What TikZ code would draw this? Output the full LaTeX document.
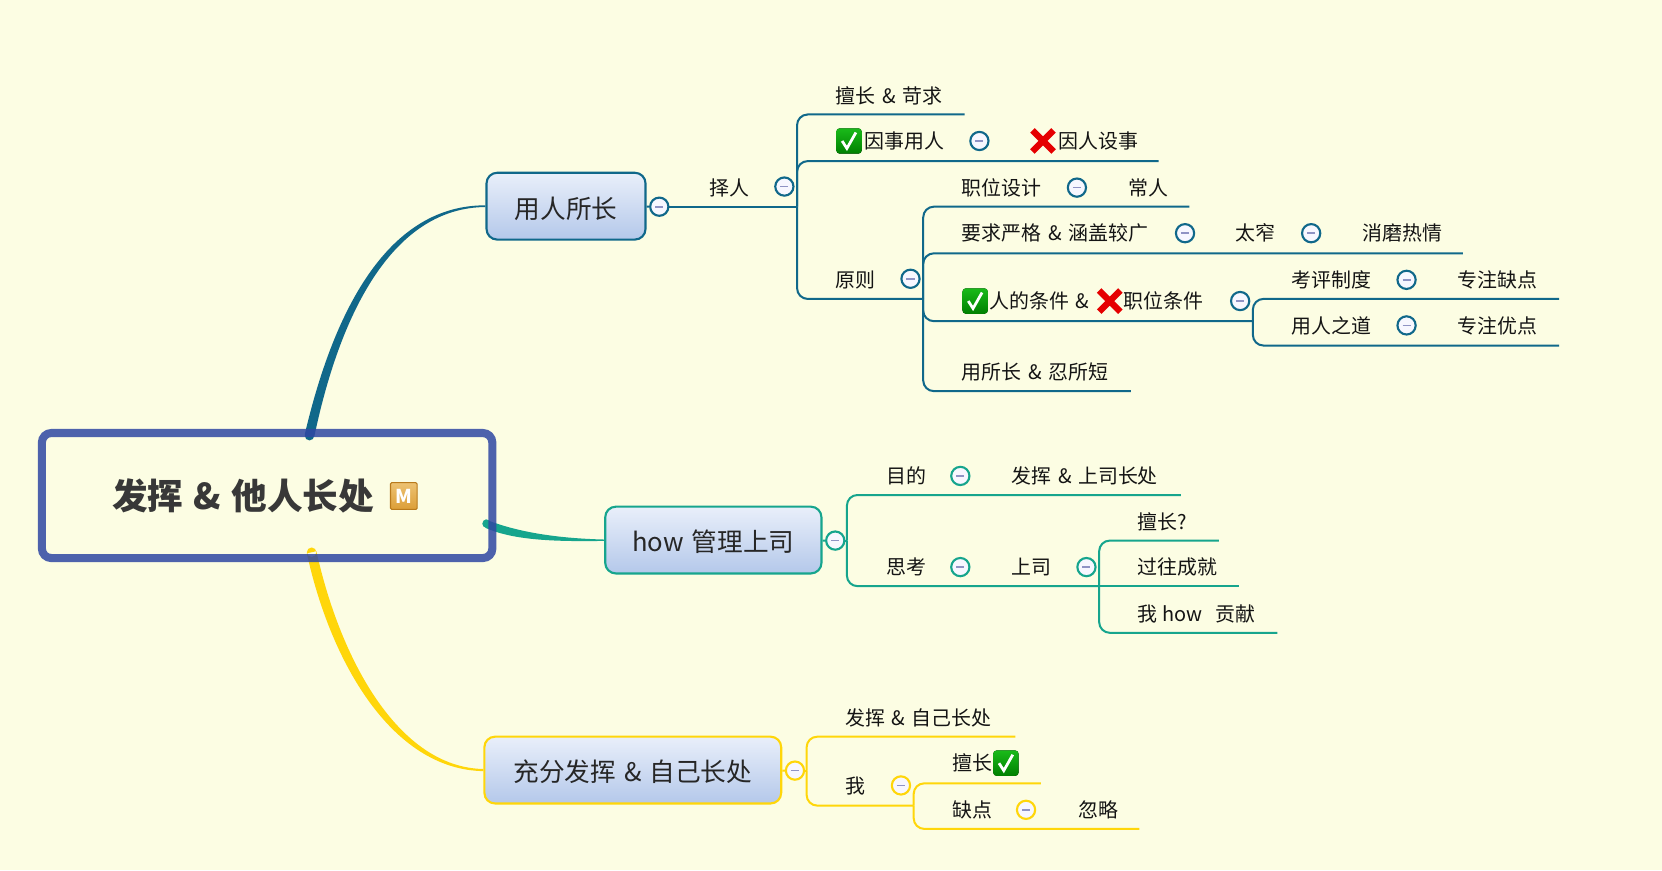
\documentclass[tikz,border=0pt]{standalone}
\usepackage{fontspec}
\setmainfont{Noto Sans CJK SC}
\usetikzlibrary{calc}
\definecolor{paper}{HTML}{FCFDE3}
\definecolor{rootblue}{HTML}{2F47A3}
\definecolor{lineblue}{HTML}{10688A}
\definecolor{lineteal}{HTML}{16A58D}
\definecolor{lineyellow}{HTML}{FFD60A}
\definecolor{minusc}{HTML}{8F93C4}
\definecolor{boxtop}{HTML}{E9EFFA}
\definecolor{boxbottom}{HTML}{B4C8EA}
\definecolor{medaltop}{HTML}{EDC272}
\definecolor{medalbottom}{HTML}{DC9E38}
\definecolor{medalline}{HTML}{B97A1C}
\newcommand{\andsign}{\hspace{1pt}\&\hspace{1pt}}
\begin{document}
\begin{tikzpicture}[x=0.5pt, y=-0.5pt,
    t/.style={anchor=west, inner sep=0pt, text height=8.5pt, text depth=1.2pt, font=\fontsize{9.4}{11}\selectfont, text=black!92},
    b/.style={rectangle, rounded corners=5pt, draw=#1, line width=1pt, top color=boxtop, bottom color=boxbottom, minimum height=31.5pt, inner sep=0pt, text height=11.2pt, text depth=0pt, font=\fontsize{12.1}{14}\selectfont, text=black!85},
    fold/.style={circle, draw=#1, line width=1pt, fill=blue!3!white, minimum size=8.6pt, inner sep=0pt,
      path picture={\draw[minusc, line width=.8pt] ([xshift=-1.9pt]path picture bounding box.center) -- ([xshift=1.9pt]path picture bounding box.center);}},
    la/.style={draw=lineblue, line width=.95pt, rounded corners=5pt},
    lb/.style={draw=lineteal, line width=.95pt, rounded corners=5pt},
    lc/.style={draw=lineyellow, line width=.95pt, rounded corners=5pt},
    okmark/.pic={\fill[top color=green!70!black!90!white, bottom color=green!50!black, rounded corners=1.6pt] (-12,-12) rectangle (12,12);
      \draw[white, line width=1.3pt] (-6.5,0) -- (-2,7) -- (6.5,-8);},
    nomark/.pic={\draw[red!90!black, line width=3pt] (-10,-10) -- (10,10) (10,-10) -- (-10,10);}]
\fill[paper] (0,0) rectangle (1568,821);
\coordinate (s1) at (292,411); \coordinate (s2) at (459,494); \coordinate (s3) at (294,521);
\node[b=lineblue, minimum width=75pt] (yong) at (534,194.5) {用人所长};
\node[b=lineteal, minimum width=102pt] (how) at (673,509.5) {how\hspace{1pt} 管理上司};
\node[b=lineyellow, minimum width=140pt] (full) at (597,726.5) {充分发挥 \andsign{} 自己长处};
\fill[lineblue] (s1) circle[radius=4.5] ($(s1)+(-4.5,-1)$) .. controls (316,288) and (368,193.5) .. ($(yong.west)+(0,-.8)$) -- ($(yong.west)+(0,.8)$) .. controls (373,196) and (322,290) .. ($(s1)+(4.5,1)$) -- cycle;
\fill[lineteal] (s2) circle[radius=4] ($(s2)+(-1,-4)$) .. controls (490,503) and (530,508) .. ($(how.west)+(0,-.5)$) -- ($(how.west)+(0,.8)$) .. controls (525,511) and (485,510) .. ($(s2)+(-1,4)$) -- cycle;
\fill[lineyellow] (s3) circle[radius=4.5] ($(s3)+(-4.5,1)$) .. controls (312,625) and (370,726) .. ($(full.west)+(0,1)$) -- ($(full.west)+(0,-1)$) .. controls (376,724) and (321,622) .. ($(s3)+(4.5,-1)$) -- cycle;
\node[rectangle, rounded corners=4.5pt, draw=rootblue, draw opacity=.85, line width=3.8pt, minimum width=212.5pt, minimum height=59pt, inner sep=0pt, text=black!78, font=\fontsize{16.8}{19}\selectfont\bfseries] (root) at (252,467.5) {发挥 \andsign{} 他人长处\kern22.5pt\null};
\node[rectangle, rounded corners=.6pt, draw=medalline, line width=.5pt, top color=medaltop, bottom color=medalbottom, text=white, minimum size=12.6pt, inner sep=0pt, font=\fontsize{9}{10}\selectfont\bfseries] (medal) at (381,468) {M};

\coordinate (j1) at (752,195);
\coordinate (e1a) at (910,108); \coordinate (e1b) at (1093,152); \coordinate (j2) at (871,282);
\coordinate (e2a) at (1122,195); \coordinate (e2b) at (1380,239); \coordinate (j3) at (1182,303); \coordinate (e2d) at (1067,369);
\coordinate (e3a) at (1471,282); \coordinate (e3b) at (1471,326);
\node[fold=lineblue] (f0) at (622,195) {};
\node[fold=lineblue] (f1) at (740,176) {};
\node[fold=lineblue] (f2) at (924,133) {};
\node[fold=lineblue] (f3) at (859,263) {};
\node[fold=lineblue] (f4) at (1016,177) {};
\node[fold=lineblue] (f5) at (1118,220) {};
\node[fold=lineblue] (f6) at (1237,220) {};
\node[fold=lineblue] (f7) at (1170,284) {};
\node[fold=lineblue] (f8) at (1327,264) {};
\node[fold=lineblue] (f9) at (1327,307) {};
\draw[la] (yong) -- (f0); \draw[la] (f0) -- (j1);
\draw[la] (j1) |- (e1a); \draw[la] (j1) |- (e1b); \draw[la] (j1) |- (j2);
\draw[la] (j2) |- (e2a); \draw[la] (j2) |- (e2b); \draw[la] (j2) |- (j3); \draw[la] (j2) |- (e2d);
\draw[la] (j3) |- (e3a); \draw[la] (j3) |- (e3b);
\node[t] (ze) at (669,177) {择人};
\node[t] (shan) at (788,90) {擅长 \andsign{} 苛求};
\pic at (801,133) {okmark};
\node[t] (yinshi) at (815,133) {因事用人};
\pic at (984,133) {nomark};
\node[t] (yinren) at (998,133) {因人设事};
\node[t] (yuan) at (788,264) {原则};
\node[t] (zhi) at (907,177) {职位设计};
\node[t] (chang) at (1064,177) {常人};
\node[t] (yao) at (907,220) {要求严格 \andsign{} 涵盖较广};
\node[t] (zhai) at (1165,220) {太窄};
\node[t] (xiao) at (1285,220) {消磨热情};
\pic at (920,284) {okmark};
\node[t] (ren) at (933,284) {人的条件 \andsign{}};
\pic at (1047,284) {nomark};
\node[t] (tiao) at (1060,284) {职位条件};
\node[t] (suo) at (907,351) {用所长 \andsign{} 忍所短};
\node[t] (kao) at (1218,264) {考评制度};
\node[t] (que) at (1375,264) {专注缺点};
\node[t] (dao) at (1218,307) {用人之道};
\node[t] (you) at (1375,307) {专注优点};

\coordinate (j4) at (799,510); \coordinate (e4a) at (1114,467); \coordinate (j5) at (1037,553);
\coordinate (e5a) at (1150,510); \coordinate (e5b) at (1169,553); \coordinate (e5c) at (1205,597);
\node[fold=lineteal] (g0) at (788,510) {};
\node[fold=lineteal] (g1) at (906,449) {};
\node[fold=lineteal] (g2) at (906,535) {};
\node[fold=lineteal] (g3) at (1025,535) {};
\draw[lb] (how) -- (g0); \draw[lb] (g0) -- (j4);
\draw[lb] (j4) |- (e4a); \draw[lb] (j4) |- (j5);
\draw[lb] (j5) |- (e5a); \draw[lb] (j5) -- (e5b); \draw[lb] (j5) |- (e5c);
\node[t] (mu) at (836,449) {目的};
\node[t] (fa) at (954,449) {发挥 \andsign{} 上司长处};
\node[t] (si) at (836,535) {思考};
\node[t] (shang) at (954,535) {上司};
\node[t] (shanb) at (1073,492) {擅长?};
\node[t] (guo) at (1073,535) {过往成就};
\node[t] (wo) at (1073,579) {我 how\ \ \ 贡献};

\coordinate (j6) at (761,727); \coordinate (e6a) at (958,695); \coordinate (j7) at (862,760);
\coordinate (e7a) at (982,739); \coordinate (e7b) at (1075,782);
\node[fold=lineyellow] (h0) at (750,727) {};
\node[fold=lineyellow] (h1) at (850,741) {};
\node[fold=lineyellow] (h2) at (968,764) {};
\draw[lc] (full) -- (h0); \draw[lc] (h0) -- (j6);
\draw[lc] (j6) |- (e6a); \draw[lc] (j6) |- (j7);
\draw[lc] (j7) |- (e7a); \draw[lc] (j7) |- (e7b);
\node[t] (zi) at (797,677) {发挥 \andsign{} 自己长处};
\node[t] (me) at (797,741) {我};
\node[t] (shanc) at (898,720) {擅长};
\pic at (949,720) {okmark};
\node[t] (dian) at (898,764) {缺点};
\node[t] (hu) at (1017,764) {忽略};
\end{tikzpicture}
\end{document}
